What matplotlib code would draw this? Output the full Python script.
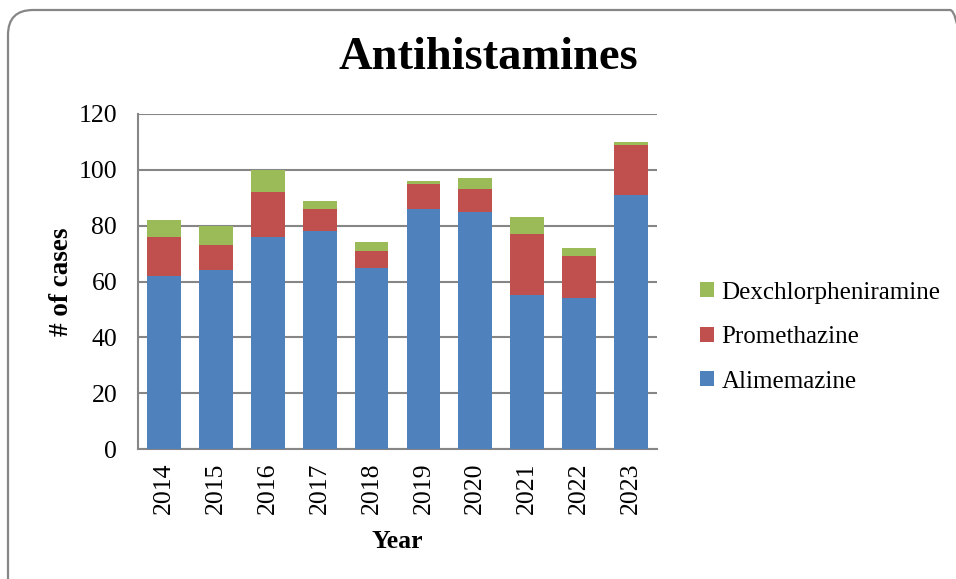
import matplotlib.pyplot as plt
import numpy as np
from matplotlib.patches import FancyBboxPatch
from matplotlib.transforms import IdentityTransform

years = ["2014", "2015", "2016", "2017", "2018", "2019", "2020", "2021", "2022", "2023"]
alimemazine = [62, 64, 76, 78, 65, 86, 85, 55, 54, 91]
promethazine = [14, 9, 16, 8, 6, 9, 8, 22, 15, 18]
dexchlorpheniramine = [6, 7, 8, 3, 3, 1, 4, 6, 3, 1]

BLUE = "#4f81bd"
RED = "#c0504d"
GREEN = "#9bbb59"
GRID = "#868686"

plt.rcParams["font.family"] = ["Liberation Serif", "DejaVu Serif"]

fig = plt.figure(figsize=(9.56, 5.79), dpi=100)

# rounded chart border in pixel units, running off the right and bottom edges
border = FancyBboxPatch((8, -60), 967, 579 - 10 + 60,
                        boxstyle="round,pad=0,rounding_size=25",
                        transform=IdentityTransform(), fill=False,
                        edgecolor=GRID, linewidth=1.6)
fig.patches.append(border)

ax = fig.add_axes([138 / 956, 1 - 449 / 579, (657 - 138) / 956, (449 - 114) / 579])

x = np.arange(len(years))
w = 0.65
bottom2 = np.array(alimemazine)
bottom3 = bottom2 + np.array(promethazine)
b1 = ax.bar(x, alimemazine, w, color=BLUE, label="Alimemazine", zorder=3)
b2 = ax.bar(x, promethazine, w, bottom=bottom2, color=RED, label="Promethazine", zorder=3)
b3 = ax.bar(x, dexchlorpheniramine, w, bottom=bottom3, color=GREEN,
            label="Dexchlorpheniramine", zorder=3)

ax.set_xlim(-0.5, len(years) - 0.5)
ax.set_ylim(0, 120)
ax.set_yticks(range(0, 121, 20))
ax.set_xticks(x)
ax.set_xticklabels(years, rotation=90)
ax.yaxis.grid(True, color=GRID, linewidth=1.5, zorder=0)
ax.tick_params(axis="both", length=0, labelsize=18.5)
ax.tick_params(axis="y", pad=15)
ax.tick_params(axis="x", pad=10)
for side in ["top", "right"]:
    ax.spines[side].set_visible(False)
for side in ["left", "bottom"]:
    ax.spines[side].set_color(GRID)
    ax.spines[side].set_linewidth(1.5)

ax.set_xlabel("Year", fontsize=18.5, fontweight="bold", labelpad=11)
ax.set_ylabel("# of cases", fontsize=19.5, fontweight="bold", labelpad=3)
fig.text(488 / 956, 1 - 58 / 579, "Antihistamines", fontsize=33.5, fontweight="bold",
         ha="center", va="center")

ax.legend(handles=[b3, b2, b1], loc="center left", bbox_to_anchor=(1.083, 0.334),
          frameon=False, fontsize=18, handlelength=0.55, handleheight=0.55,
          handletextpad=0.3, labelspacing=0.9, borderpad=0, borderaxespad=0)

fig.savefig("out.png", dpi=100)
